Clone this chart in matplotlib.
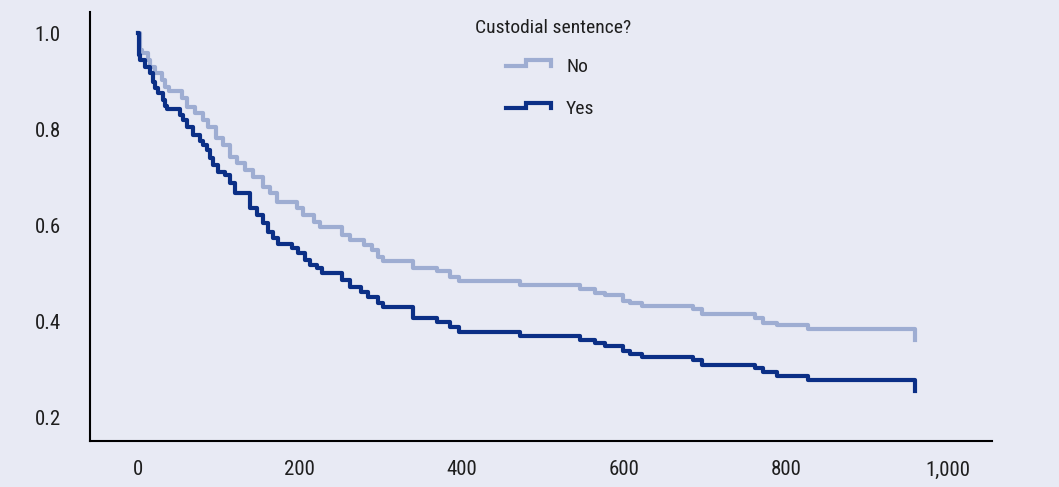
import matplotlib
matplotlib.use("Agg")
import matplotlib.pyplot as plt
from matplotlib.lines import Line2D
from matplotlib.legend_handler import HandlerBase
from matplotlib.ticker import FuncFormatter

# Kaplan-Meier style survival (days, proportion)
no_days = [0, 3, 5, 12, 15, 21, 30, 34, 38, 55, 61, 71, 81, 87, 96, 105, 114,
           123, 132, 142, 155, 163, 172, 197, 204, 217, 225, 252, 262, 279,
           289, 297, 303, 340, 370, 386, 396, 472, 546, 565, 577, 599, 608,
           623, 685, 697, 762, 772, 789, 828, 960]
no_surv = [1.0, 0.965, 0.958, 0.944, 0.929, 0.917, 0.902, 0.888, 0.880, 0.865,
           0.846, 0.834, 0.819, 0.805, 0.782, 0.767, 0.742, 0.730, 0.715,
           0.701, 0.680, 0.668, 0.649, 0.636, 0.622, 0.607, 0.597, 0.580,
           0.570, 0.559, 0.549, 0.535, 0.526, 0.512, 0.505, 0.493, 0.485,
           0.476, 0.467, 0.460, 0.456, 0.444, 0.438, 0.433, 0.426, 0.415,
           0.407, 0.398, 0.393, 0.384, 0.361]

yes_days = [0, 1, 3, 9, 15, 19, 21, 25, 31, 34, 36, 52, 56, 61, 68, 77, 80, 86,
            89, 93, 99, 108, 114, 120, 139, 147, 155, 161, 167, 173, 191, 198,
            207, 213, 221, 228, 252, 262, 275, 284, 296, 303, 340, 370, 386,
            396, 472, 546, 565, 577, 599, 608, 623, 685, 697, 762, 772, 789,
            828, 960]
yes_surv = [1.0, 0.954, 0.944, 0.929, 0.917, 0.898, 0.886, 0.875, 0.861, 0.848,
            0.842, 0.830, 0.819, 0.805, 0.788, 0.776, 0.767, 0.757, 0.740,
            0.726, 0.711, 0.705, 0.688, 0.667, 0.636, 0.622, 0.605, 0.586,
            0.574, 0.562, 0.553, 0.543, 0.528, 0.518, 0.512, 0.501, 0.487,
            0.472, 0.462, 0.451, 0.439, 0.431, 0.408, 0.400, 0.389, 0.379,
            0.370, 0.362, 0.355, 0.350, 0.340, 0.332, 0.327, 0.321, 0.310,
            0.303, 0.296, 0.288, 0.279, 0.256]

bg = "#E8EAF4"
light_blue = "#9EADD2"
dark_blue = "#0B2F86"
text_col = "#1e1e1e"

plt.rcParams["font.family"] = ["Roboto Condensed", "IBM Plex Sans Condensed",
                               "DejaVu Sans"]


class StepHandler(HandlerBase):
    # legend key drawn as a little step
    def create_artists(self, legend, orig_handle, xdescent, ydescent,
                       width, height, fontsize, trans):
        x0, y0 = -xdescent, -ydescent
        xs = [x0, x0 + 0.45 * width, x0 + 0.45 * width, x0 + width, x0 + width]
        ys = [y0 + 0.45 * height, y0 + 0.45 * height, y0 + 0.85 * height,
              y0 + 0.85 * height, y0 + 0.45 * height]
        line = Line2D(xs, ys, color=orig_handle.get_color(),
                      linewidth=orig_handle.get_linewidth(),
                      solid_joinstyle="miter")
        line.set_transform(trans)
        return [line]


fig = plt.figure(figsize=(10.59, 4.87), dpi=100, facecolor=bg)
ax = fig.add_axes([0.085, 0.0945, 0.852, 0.881])
ax.set_facecolor(bg)

l1, = ax.plot(no_days, no_surv, drawstyle="steps-post", color=light_blue,
              linewidth=3.0, label="No")
l2, = ax.plot(yes_days, yes_surv, drawstyle="steps-post", color=dark_blue,
              linewidth=3.0, label="Yes")

ax.set_xlim(-59, 1055)
ax.set_ylim(0.152, 1.044)
ax.set_xticks([0, 200, 400, 600, 800, 1000])
ax.set_yticks([0.2, 0.4, 0.6, 0.8, 1.0])
ax.xaxis.set_major_formatter(FuncFormatter(lambda v, p: "{:,.0f}".format(v)))
ax.yaxis.set_major_formatter(FuncFormatter(lambda v, p: "{:.1f}".format(v)))
ax.tick_params(axis="both", length=0, colors=text_col)
ax.tick_params(axis="y", pad=21, labelsize=15)
ax.tick_params(axis="x", pad=14, labelsize=15)

for s in ["top", "right"]:
    ax.spines[s].set_visible(False)
for s in ["left", "bottom"]:
    ax.spines[s].set_linewidth(1.5)
    ax.spines[s].set_color("black")

ax.text(0.513, 0.963, "Custodial sentence?", transform=ax.transAxes,
        ha="center", va="center", fontsize=14, color=text_col)

leg = ax.legend(handles=[l1, l2],
                handler_map={Line2D: StepHandler()},
                loc="upper center", bbox_to_anchor=(0.51, 0.929),
                frameon=False, fontsize=14,
                borderpad=0.3, labelspacing=1.26, handlelength=2.3,
                handletextpad=0.8)
for t in leg.get_texts():
    t.set_color(text_col)

fig.savefig("out.png", dpi=100, facecolor=bg)
